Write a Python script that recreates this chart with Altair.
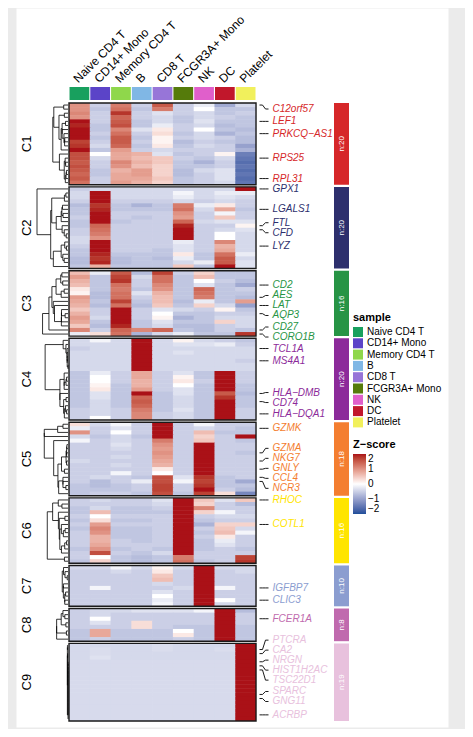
import altair as alt
import numpy as np
import pandas as pd

# ---------------- data ----------------
SAMPLES = ["Naive CD4 T", "CD14+ Mono", "Memory CD4 T", "B", "CD8 T",
           "FCGR3A+ Mono", "NK", "DC", "Platelet"]
SAMPLE_COLORS = ["#18A05E", "#5B44C8", "#8FD74B", "#80B7E5", "#9775D8",
                 "#557B0B", "#E05FCB", "#C1172B", "#F1F05C"]
CLUSTERS = ["C1", "C2", "C3", "C4", "C5", "C6", "C7", "C8", "C9"]
CLUSTER_COLORS = ["#D62729", "#2D2F6D", "#279445", "#8C2A9A", "#F47E30",
                  "#FFE500", "#8B9DD0", "#C06AAE", "#E8C1DD"]

C1 = [
    [1.0, -0.5, 1.2, -0.5, 1.5, -0.5, -0.2, -0.9, -0.4],
    [1.0, -0.6, 1.3, -0.6, 1.2, -0.5, 0.0, -0.6, -0.6],
    [1.1, -0.5, 1.8, -0.5, -0.3, -0.5, -0.4, -0.6, -0.5],
    [1.0, -0.5, 1.4, -0.5, -0.4, -0.6, -0.4, -0.5, -0.6],
    [2.0, -0.5, 1.5, -0.6, -0.4, -0.6, -0.3, -0.6, -0.6],
    [1.9, -0.6, 1.6, -0.6, -0.2, -0.5, -0.4, -0.7, -0.6],
    [2.2, -0.6, 1.1, -0.3, 0.2, -0.5, 0.0, -0.6, -0.7],
    [2.0, -0.5, 1.3, -0.5, 0.3, -0.6, -0.4, -0.8, -0.6],
    [2.0, -0.6, 1.5, -0.6, 0.1, -0.5, -0.4, -0.5, -0.7],
    [1.7, -0.5, 1.5, -0.5, 0.1, -0.7, -0.5, -0.6, -0.7],
    [1.8, -0.4, 1.4, -0.6, 0.2, -0.6, -0.4, -0.5, -1.0],
    [2.2, -0.6, 0.9, -0.5, -0.4, -0.5, -0.5, -0.5, -0.8],
    [1.6, 0.0, 0.8, 0.7, -0.3, -0.6, -0.5, 0.1, -1.4],
    [1.6, -0.4, 0.8, 0.6, 0.5, -0.5, -0.6, -0.4, -1.5],
    [1.5, -0.5, 1.1, 0.7, 0.5, -0.6, -0.8, -0.5, -1.6],
    [1.6, -0.5, 1.0, 0.6, 0.4, -0.6, -0.6, -0.5, -1.5],
    [1.5, -0.6, 0.7, 0.9, 0.4, -0.7, -0.4, -0.3, -1.6],
    [1.4, -0.6, 0.8, 0.9, 0.4, -0.7, -0.5, -0.3, -1.5],
    [1.5, -0.5, 0.8, 0.8, 0.5, -0.6, -0.5, -0.3, -1.6],
    [1.3, -0.5, 0.9, 0.7, 0.4, -0.6, -0.5, -0.4, -1.5],
]
C2 = [
    [-0.5, -0.4, -0.4, -0.4, -0.4, -0.4, -0.4, -0.4, 2.2],
    [-0.4, 2.3, -0.4, -0.4, -0.4, -0.1, -0.4, -0.2, -0.2],
    [-0.4, 2.2, -0.4, -0.4, -0.4, -0.2, -0.4, -0.3, -0.4],
    [-0.5, 2.1, -0.5, -0.5, -0.5, -0.4, -0.5, -0.4, -0.5],
    [-0.7, 1.8, -0.6, -0.8, -0.6, 1.2, -0.2, 0.2, -0.5],
    [-0.6, 1.9, -0.6, -0.6, -0.6, 1.3, -0.4, 0.8, -0.6],
    [-0.6, 2.2, -0.5, -0.5, -0.5, 1.0, -0.5, -0.1, -0.5],
    [-0.5, 2.2, -0.5, -0.6, -0.5, 0.9, -0.5, 0.5, -0.5],
    [-0.6, 2.0, -0.6, -0.5, -0.5, 1.4, -0.4, -0.3, -0.3],
    [-0.6, 1.4, -0.5, -0.5, -0.5, 1.9, -0.5, -0.5, 0.1],
    [-0.5, 1.3, -0.5, -0.5, -0.5, 2.2, -0.5, -0.4, -0.3],
    [-0.5, 1.2, -0.5, -0.5, -0.5, 2.2, -0.5, 0.0, -0.4],
    [-0.4, 1.0, -0.5, -0.5, -0.5, 2.2, -0.5, 0.0, -0.4],
    [-0.4, 2.3, -0.5, -0.5, -0.5, -0.2, -0.5, 1.1, -0.4],
    [-0.5, 2.3, -0.5, -0.5, -0.5, -0.3, -0.5, 0.7, -0.4],
    [-0.6, 2.2, -0.5, -0.5, -0.6, -0.3, -0.5, 0.8, -0.4],
    [-0.6, 1.9, -0.6, -0.6, -0.6, 0.2, -0.6, 1.3, -0.2],
    [-0.7, 1.8, -0.7, -0.6, -0.7, -0.2, -0.6, 1.5, -0.4],
    [-0.7, 1.9, -0.7, -0.6, -0.6, -0.4, -0.2, 1.5, -0.3],
    [-0.6, 0.7, -0.6, -0.6, -0.6, 0.5, -0.6, 2.1, -0.3],
]
C3 = [
    [0.6, -0.2, 1.5, -0.7, 1.7, -0.5, 0.4, -0.6, -0.6],
    [0.9, -0.6, 1.7, -0.4, 1.3, -0.6, 0.6, -0.6, -0.6],
    [0.7, -0.6, 1.8, -0.5, 1.3, -0.6, 0.0, -0.5, -0.7],
    [0.6, -0.6, 1.3, -0.5, 1.1, -0.6, -0.3, -0.6, -0.9],
    [0.2, -0.6, 1.2, -0.6, 1.0, -0.6, 1.4, -0.6, -0.5],
    [0.1, -0.7, 1.3, -0.3, 0.7, -0.6, 1.3, -0.6, -0.6],
    [0.9, -0.7, 1.3, -0.5, 0.6, -0.6, 1.2, -0.6, -0.7],
    [0.8, -0.6, 1.7, -0.6, 0.6, -0.7, -0.2, -0.6, 0.9],
    [0.7, -0.7, 1.3, -0.7, 0.5, -0.6, 0.4, -0.4, -1.0],
    [0.5, -0.5, 2.3, -0.5, -0.3, -0.4, -0.5, 0.1, -0.6],
    [0.7, -0.5, 2.3, -0.5, 0.0, -0.6, -0.6, -0.5, -0.5],
    [0.9, -0.4, 2.2, -0.5, 0.1, -0.8, -0.6, -0.4, -0.4],
    [0.8, -0.6, 2.2, -0.6, -0.3, -0.6, -0.6, 0.4, -0.4],
    [0.5, -0.7, 1.9, -0.6, -0.4, -0.7, -0.7, -0.5, -0.4],
    [1.1, -0.5, 1.4, 1.1, 1.4, -0.6, -0.7, -0.5, -0.6],
    [-0.2, 0.3, 1.3, -0.8, -0.4, -0.2, -0.6, -0.6, 1.8],
]
C4 = [
    [-0.4, -0.1, -0.4, 2.3, -0.4, 0.1, -0.4, -0.5, -0.6],
    [-0.4, -0.4, -0.4, 2.3, -0.4, -0.3, -0.3, -0.2, -0.5],
    [-0.5, -0.4, -0.4, 2.3, -0.4, -0.4, -0.4, -0.4, -0.4],
    [-0.4, -0.4, -0.4, 2.3, -0.4, -0.3, -0.4, -0.4, -0.4],
    [-0.4, -0.4, -0.4, 2.3, -0.4, -0.4, -0.4, -0.4, -0.4],
    [-0.4, -0.4, -0.4, 2.3, -0.4, -0.4, -0.4, -0.4, -0.5],
    [-0.4, -0.4, -0.4, 2.3, -0.4, -0.4, -0.4, -0.4, -0.4],
    [-0.4, -0.4, -0.4, 2.3, -0.4, -0.4, -0.4, -0.4, -0.4],
    [-0.6, -0.2, -0.5, 0.8, -0.5, -0.3, -0.6, 2.3, -0.5],
    [-0.6, 0.0, -0.5, 0.8, -0.5, 0.1, -0.6, 2.3, -0.5],
    [-0.6, 0.0, -0.5, 0.7, -0.5, 0.2, -0.5, 2.3, -0.5],
    [-0.6, 0.1, -0.6, 0.7, -0.5, 0.0, -0.6, 2.3, -0.6],
    [-0.6, 0.2, -0.6, 0.9, -0.5, -0.3, -0.6, 2.3, -0.6],
    [-0.6, -0.3, -0.6, 2.0, -0.6, -0.3, -0.6, 1.5, -0.7],
    [-0.6, -0.3, -0.6, 1.4, -0.6, -0.4, -0.6, 1.8, -0.6],
    [-0.6, -0.4, -0.6, 1.5, -0.6, -0.4, -0.6, 2.0, -0.6],
    [-0.6, -0.4, -0.6, 1.4, -0.6, -0.4, -0.6, 2.3, -0.6],
    [-0.5, -0.4, -0.5, 1.2, -0.6, -0.3, -0.6, 2.3, -0.5],
    [-0.5, -0.4, -0.5, 1.1, -0.5, -0.4, -0.6, 2.3, -0.5],
    [-0.5, 0.0, -0.5, 1.1, -0.5, -0.4, -0.6, 2.3, -0.5],
]
C5 = [
    [0.3, -0.4, -0.1, -0.5, 2.3, -0.5, -0.1, -0.5, -0.5],
    [-0.2, -0.5, -0.3, -0.5, 2.3, -0.5, -0.4, -0.5, -0.6],
    [1.0, -0.5, 0.0, -0.5, 2.3, -0.5, 0.6, -0.6, -0.6],
    [-0.4, -0.6, -0.4, -0.6, 2.3, -0.5, 0.4, -0.5, 2.2],
    [-0.1, -0.5, -0.4, -0.5, 1.2, -0.5, 0.5, -0.5, -0.6],
    [-0.5, -0.5, -0.3, -0.5, 1.0, -0.5, 2.3, -0.5, -0.5],
    [-0.5, -0.5, -0.4, -0.5, 0.9, -0.5, 2.3, -0.5, -0.5],
    [-0.5, -0.5, -0.5, -0.5, 1.0, -0.5, 2.3, -0.5, -0.6],
    [-0.5, -0.5, -0.4, -0.5, 0.9, -0.5, 2.3, -0.5, -0.5],
    [-0.4, -0.5, -0.5, -0.5, 0.8, -0.5, 2.3, -0.5, -0.5],
    [-0.5, -0.5, -0.4, -0.5, 0.7, -0.5, 2.3, -0.5, -0.5],
    [-0.5, -0.5, -0.5, -0.5, 0.2, -0.5, 2.3, -0.5, -0.5],
    [-0.5, -0.5, -0.1, -0.5, 0.0, -0.5, 2.3, -0.5, -0.5],
    [-0.5, -0.4, -0.5, -0.6, 1.6, -0.3, 1.8, -0.6, -0.5],
    [-0.5, -0.7, -0.5, -0.2, 1.6, -0.1, 1.7, -0.6, -0.9],
    [-0.6, -0.7, -0.6, -0.5, 1.7, -0.5, 1.8, -0.6, -0.6],
    [-0.6, -0.6, -0.6, -0.5, 1.7, -0.5, 2.0, -0.5, -0.7],
    [-0.6, -0.5, -0.5, -0.6, 1.6, -0.6, 1.7, 0.3, -1.3],
]
C6 = [
    [-0.5, -0.4, -0.5, -0.5, -0.3, 2.3, 0.5, -0.3, 0.5],
    [-0.5, -0.5, -0.5, -0.5, -0.4, 2.3, 0.4, -0.5, -0.7],
    [-0.6, -0.4, -0.6, -0.6, -0.5, 2.3, 1.1, -0.5, -0.5],
    [-0.6, 0.6, -0.6, -0.6, -0.6, 2.3, 0.4, -0.1, -0.5],
    [-0.5, 0.0, -0.5, -0.5, -0.5, 2.3, -0.5, -0.4, -0.4],
    [-0.6, 0.3, -0.6, -0.6, -0.5, 2.3, -0.6, -0.5, -0.5],
    [-0.5, 0.9, -0.5, -0.5, -0.5, 2.3, -0.8, 0.4, 0.4],
    [-0.6, 1.1, -0.6, -0.6, -0.5, 2.3, -0.5, 0.5, -0.4],
    [-0.5, 1.0, -0.6, -0.6, -0.5, 2.3, -0.6, 0.6, -0.1],
    [-0.5, 0.7, -0.6, -0.6, -0.5, 2.3, -0.5, 0.2, -0.5],
    [-0.5, 0.7, -0.5, -0.6, -0.5, 2.3, -0.6, -0.2, -0.5],
    [-0.5, 0.8, -0.5, -0.5, -0.5, 2.3, -0.6, -0.3, -0.5],
    [-0.6, 1.0, -0.6, -0.5, -0.6, 2.3, -0.6, -0.5, -0.6],
    [-0.5, 1.6, -0.5, -0.6, -0.4, 2.3, -0.5, -0.5, -0.5],
    [-0.5, 0.0, -0.6, -0.7, -0.6, 1.2, -0.5, -0.5, 1.7],
    [-0.6, 0.4, -0.6, -0.7, -0.6, 1.3, -0.6, -0.5, 1.8],
]
C7 = [
    [-0.4, -0.4, -0.1, -0.4, 0.1, -0.4, 2.3, -0.4, -0.4],
    [-0.5, -0.5, -0.4, -0.5, 0.2, -0.5, 2.3, -0.5, -0.4],
    [-0.5, -0.5, -0.5, -0.5, 0.5, -0.5, 2.3, -0.5, -0.5],
    [-0.5, -0.5, -0.5, -0.5, 0.6, -0.5, 2.3, -0.5, -0.5],
    [-0.5, -0.5, -0.5, -0.5, -0.4, -0.5, 2.3, -0.5, -0.5],
    [-0.5, -0.1, -0.5, -0.5, -0.5, -0.4, 2.3, -0.1, -0.5],
    [-0.5, -0.5, -0.5, -0.5, -0.3, -0.5, 2.3, -0.5, -0.5],
    [-0.5, -0.5, -0.5, -0.5, 0.0, -0.5, 2.3, -0.5, -0.5],
    [-0.5, -0.5, -0.5, -0.5, -0.2, -0.5, 2.3, 0.0, -0.5],
    [-0.5, -0.5, -0.5, -0.5, -0.1, -0.5, 2.3, -0.4, -0.5],
]
C8 = [
    [-0.5, -0.4, -0.4, -0.3, -0.3, -0.3, -0.1, 2.3, -0.7],
    [-0.5, -0.4, -0.5, -0.5, -0.5, -0.5, -0.5, 2.3, -0.5],
    [-0.5, 0.0, -0.5, -0.5, -0.5, -0.5, -0.5, 2.3, -0.5],
    [-0.5, -0.3, -0.5, 0.3, -0.5, -0.5, -0.5, 2.3, -0.5],
    [-0.5, -0.5, -0.5, 0.3, -0.5, -0.6, -0.6, 2.3, -0.6],
    [-0.6, 0.8, -0.6, -0.6, -0.6, 0.0, -0.6, 2.3, -0.6],
    [-0.6, 0.8, -0.6, -0.6, -0.6, 0.2, -0.6, 2.3, -0.6],
    [-0.6, -0.5, -0.6, -0.6, -0.6, -0.5, -0.6, 2.3, -0.6],
]
C9 = [
    [-0.40, -0.40, -0.40, -0.40, -0.35, -0.40, -0.40, -0.40, 2.3],
    [-0.40, -0.35, -0.40, -0.40, -0.35, -0.40, -0.40, -0.35, 2.3],
    [-0.40, -0.35, -0.40, -0.40, -0.40, -0.40, -0.40, -0.40, 2.3],
    [-0.40, -0.30, -0.40, -0.40, -0.40, -0.40, -0.40, -0.40, 2.3],
    [-0.38, -0.38, -0.38, -0.38, -0.38, -0.38, -0.38, -0.38, 2.3],
    [-0.38, -0.38, -0.38, -0.38, -0.38, -0.38, -0.38, -0.38, 2.3],
    [-0.38, -0.38, -0.38, -0.38, -0.38, -0.38, -0.38, -0.38, 2.3],
    [-0.38, -0.38, -0.38, -0.38, -0.38, -0.38, -0.38, -0.38, 2.3],
    [-0.38, -0.38, -0.38, -0.38, -0.38, -0.38, -0.38, -0.38, 2.3],
    [-0.38, -0.38, -0.38, -0.38, -0.38, -0.38, -0.38, -0.38, 2.3],
    [-0.38, -0.38, -0.38, -0.38, -0.38, -0.38, -0.38, -0.38, 2.3],
    [-0.38, -0.38, -0.38, -0.38, -0.38, -0.38, -0.38, -0.38, 2.3],
    [-0.38, -0.38, -0.38, -0.38, -0.38, -0.38, -0.38, -0.38, 2.3],
    [-0.38, -0.38, -0.38, -0.38, -0.38, -0.38, -0.38, -0.38, 2.3],
    [-0.38, -0.38, -0.38, -0.38, -0.38, -0.38, -0.38, -0.38, 2.3],
    [-0.38, -0.38, -0.38, -0.38, -0.38, -0.38, -0.38, -0.38, 2.3],
    [-0.38, -0.38, -0.38, -0.38, -0.38, -0.38, -0.38, -0.38, 2.3],
    [-0.38, -0.38, -0.38, -0.38, -0.38, -0.38, -0.38, -0.38, 2.3],
    [-0.38, -0.38, -0.38, -0.38, -0.38, -0.38, -0.38, -0.38, 2.3],
]
SLICES = [C1, C2, C3, C4, C5, C6, C7, C8, C9]

GENES = ["C12orf57", "LEF1", "PRKCQ\u2212AS1", "RPS25", "RPL31",
         "GPX1", "LGALS1", "FTL", "CFD", "LYZ",
         "CD2", "AES", "LAT", "AQP3", "CD27", "CORO1B",
         "TCL1A", "MS4A1", "HLA\u2212DMB", "CD74", "HLA\u2212DQA1",
         "GZMK", "GZMA", "NKG7", "GNLY", "CCL4", "NCR3",
         "RHOC", "COTL1", "IGFBP7", "CLIC3", "FCER1A",
         "PTCRA", "CA2", "NRGN", "HIST1H2AC", "TSC22D1", "SPARC", "GNG11", "ACRBP"]
GENE_CLUSTER = [0, 0, 0, 0, 0, 1, 1, 1, 1, 1, 2, 2, 2, 2, 2, 2, 3, 3, 3, 3, 3,
                4, 4, 4, 4, 4, 4, 5, 5, 6, 6, 7, 8, 8, 8, 8, 8, 8, 8, 8]
GENE_ROW = [0, 4, 7, 13, 18, 0, 5, 9, 10, 14, 3, 6, 8, 10, 14, 15, 2, 5, 13, 15, 18,
            1, 7, 9, 11, 13, 14, 0, 6, 5, 8, 2, 1, 2, 4, 5, 6, 12, 13, 17]

# ---------------- layout (pixels inside the plot area) ----------------
FONT = "Liberation Sans"
W, H = 432, 719
ROW_PX = 4.084
COL_PX = 20.78
GAP = 0.54            # gap between slices, in rows
HM_LEFT, HM_TOP = 53, 95
X_DOMAIN = [-HM_LEFT / COL_PX, (W - HM_LEFT) / COL_PX]
Y_DOMAIN = [-HM_TOP / ROW_PX, (H - HM_TOP) / ROW_PX]


def xu(px):
    return (px - HM_LEFT) / COL_PX


def yu(py):
    return (py - HM_TOP) / ROW_PX


NCOL = len(SAMPLES)
sizes = [len(s) for s in SLICES]
starts = []
acc = 0.0
for k, n in enumerate(sizes):
    starts.append(acc)
    acc += n + GAP
total_end = starts[-1] + sizes[-1]

# heatmap cells
cells = []
for k, sl in enumerate(SLICES):
    for r, row in enumerate(sl):
        for c, z in enumerate(row):
            cells.append(dict(
                x=c, x2=c + (1.03 if c < NCOL - 1 else 1.0),
                y=starts[k] + r, y2=starts[k] + r + (1.12 if r < len(sl) - 1 else 1.0),
                z=z))
heat_df = pd.DataFrame(cells)

border_df = pd.DataFrame([dict(x=0, x2=NCOL, y=starts[k], y2=starts[k] + sizes[k])
                          for k in range(len(SLICES))])

ann_df = pd.DataFrame([dict(x=c + 0.025, x2=c + 0.975, y=yu(79), y2=yu(92), sample=s)
                       for c, s in enumerate(SAMPLES)])
collab_df = pd.DataFrame([dict(x=c + 0.45, y=yu(75.5), t=s) for c, s in enumerate(SAMPLES)])


# dendrograms: adjacency-constrained average linkage on each slice
def dendro(rows):
    X = np.array(rows, dtype=float)
    D = np.sqrt(((X[:, None, :] - X[None, :, :]) ** 2).sum(-1))
    nodes = [dict(m=[i], p=i + 0.5, h=0.0) for i in range(len(X))]
    segs = []
    while len(nodes) > 1:
        best = None
        for i in range(len(nodes) - 1):
            d = D[np.ix_(nodes[i]["m"], nodes[i + 1]["m"])].mean()
            if best is None or d < best[0]:
                best = (d, i)
        d, i = best
        a, b = nodes[i], nodes[i + 1]
        h = max(d, a["h"], b["h"])
        segs.append((a["h"], h, a["p"], a["p"]))
        segs.append((b["h"], h, b["p"], b["p"]))
        segs.append((h, h, a["p"], b["p"]))
        nodes[i:i + 2] = [dict(m=a["m"] + b["m"], p=(a["p"] + b["p"]) / 2, h=h)]
    return segs


all_segs = [dendro(sl) for sl in SLICES]
hmax = max(s[1] for segs in all_segs for s in segs)
D_RIGHT, D_LEFT = xu(52), xu(21)
dend = []
for k, segs in enumerate(all_segs):
    for h1, h2, p1, p2 in segs:
        dend.append(dict(x=D_RIGHT - h1 / hmax * (D_RIGHT - D_LEFT),
                         x2=D_RIGHT - h2 / hmax * (D_RIGHT - D_LEFT),
                         y=starts[k] + p1, y2=starts[k] + p2))
dend_df = pd.DataFrame(dend)

clab_df = pd.DataFrame([dict(x=xu(11), y=starts[k] + sizes[k] / 2, t=CLUSTERS[k])
                        for k in range(len(SLICES))])

# gene labels with simple grouping repel
LH = 10 / ROW_PX
desired = [starts[GENE_CLUSTER[i]] + GENE_ROW[i] + 0.5 for i in range(len(GENES))]
LO, HI = yu(HM_TOP + 1), total_end


def center(b):
    c = np.mean([desired[i] for i in b])
    half = len(b) * LH / 2
    return min(max(c, LO + half), HI - half)


blocks = [[i] for i in np.argsort(desired)]
changed = True
while changed:
    changed = False
    for k in range(len(blocks) - 1):
        if center(blocks[k]) + len(blocks[k]) * LH / 2 > center(blocks[k + 1]) - len(blocks[k + 1]) * LH / 2:
            blocks[k:k + 2] = [blocks[k] + blocks[k + 1]]
            changed = True
            break
lab_pos = {}
for b in blocks:
    top = center(b) - len(b) * LH / 2
    for j, i in enumerate(b):
        lab_pos[i] = top + (j + 0.5) * LH

XA, XB, XC, XD, XL = xu(243.5), xu(246.5), xu(249.5), xu(252.5), xu(256.5)
conn, glab = [], []
for i, g in enumerate(GENES):
    yd, yl = desired[i], lab_pos[i]
    conn += [dict(x=XA, x2=XB, y=yd, y2=yd), dict(x=XB, x2=XC, y=yd, y2=yl),
             dict(x=XC, x2=XD, y=yl, y2=yl)]
    glab.append(dict(x=XL, y=yl, t=g, col=CLUSTER_COLORS[GENE_CLUSTER[i]]))
conn_df = pd.DataFrame(conn)
glab_df = pd.DataFrame(glab)

bar_df = pd.DataFrame([dict(x=xu(318), x2=xu(333), y=starts[k], y2=starts[k] + sizes[k],
                            col=CLUSTER_COLORS[k], ym=starts[k] + sizes[k] / 2,
                            xm=xu(325.5), t="n:%d" % sizes[k])
                       for k in range(len(SLICES))])

# ---------------- chart ----------------
xs = alt.Scale(domain=X_DOMAIN, nice=False, zero=False)
ys = alt.Scale(domain=Y_DOMAIN, nice=False, zero=False, reverse=True)


def X(f="x"):
    return alt.X(f + ":Q", scale=xs, axis=None)


def Y(f="y"):
    return alt.Y(f + ":Q", scale=ys, axis=None)


heat = alt.Chart(heat_df).mark_rect().encode(
    x=X(), x2="x2:Q", y=Y(), y2="y2:Q",
    color=alt.Color("z:Q",
                    scale=alt.Scale(domain=[-2, 0, 2], range=["#1F4E9A", "#FFFFFF", "#AA1117"],
                                    interpolate="lab", clamp=True),
                    legend=alt.Legend(title="Z\u2212score", orient="none", legendX=337, legendY=431,
                                      direction="vertical", gradientLength=60, gradientThickness=13,
                                      values=[-2, -1, 0, 1, 2], labelFontSize=10, labelFont=FONT,
                                      titleFont=FONT, titleFontSize=11, titleFontWeight="bold",
                                      titleColor="black", labelColor="black",
                                      gradientStrokeWidth=0, titlePadding=4)))

border = alt.Chart(border_df).mark_rect(filled=False, stroke="#1a1a1a", strokeWidth=1.4).encode(
    x=X(), x2="x2:Q", y=Y(), y2="y2:Q")

ann = alt.Chart(ann_df).mark_rect().encode(
    x=X(), x2="x2:Q", y=Y(), y2="y2:Q",
    fill=alt.Fill("sample:N", scale=alt.Scale(domain=SAMPLES, range=SAMPLE_COLORS),
                  legend=alt.Legend(title="sample", orient="none", legendX=337, legendY=304,
                                    symbolType="square", symbolSize=100, symbolStrokeWidth=0,
                                    symbolOpacity=1, labelFontSize=10, labelFont=FONT,
                                    titleFont=FONT, titleFontSize=11, titleFontWeight="bold",
                                    titleColor="black", labelColor="black",
                                    rowPadding=1.3, titlePadding=4, labelOffset=4)))

collab = alt.Chart(collab_df).mark_text(angle=315, align="left", baseline="alphabetic",
                                        fontSize=12, font=FONT, color="black").encode(
    x=X(), y=Y(), text="t:N")

dendro_layer = alt.Chart(dend_df).mark_rule(color="black", strokeWidth=0.8).encode(
    x=X(), x2="x2:Q", y=Y(), y2="y2:Q")

clab = alt.Chart(clab_df).mark_text(angle=270, align="center", baseline="middle",
                                    fontSize=13, font=FONT, color="black").encode(
    x=X(), y=Y(), text="t:N")

conn_layer = alt.Chart(conn_df).mark_rule(color="black", strokeWidth=0.9).encode(
    x=X(), x2="x2:Q", y=Y(), y2="y2:Q")

glab_layer = alt.Chart(glab_df).mark_text(align="left", baseline="middle", fontSize=10,
                                          fontStyle="italic", font=FONT).encode(
    x=X(), y=Y(), text="t:N", color=alt.Color("col:N", scale=None))

bars = alt.Chart(bar_df).mark_rect().encode(
    x=X(), x2="x2:Q", y=Y(), y2="y2:Q", color=alt.Color("col:N", scale=None))

bar_txt = alt.Chart(bar_df).mark_text(angle=270, align="center", baseline="middle",
                                      fontSize=8, font=FONT, color="white").encode(
    x=X("xm"), y=Y("ym"), text="t:N")

chart = alt.layer(heat, border, ann, collab, dendro_layer, clab, conn_layer,
                  glab_layer, bars, bar_txt).properties(
    width=W, height=H, background="#EBEBEB",
    padding={"left": 8, "top": 0, "right": 17, "bottom": 2},
    autosize=alt.AutoSizeParams(type="none"),
).configure_view(fill="white", stroke="transparent")

chart.save("out.html", embed_options={"renderer": "svg", "actions": False})
